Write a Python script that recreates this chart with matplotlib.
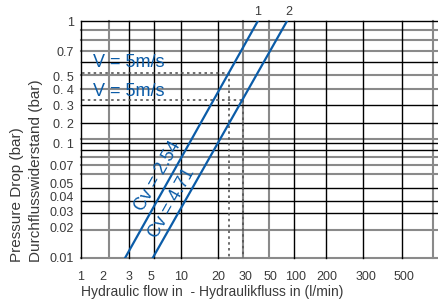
import numpy as np
import matplotlib
matplotlib.use("Agg")
import matplotlib.pyplot as plt

plt.rcParams['font.family'] = ['Liberation Sans', 'DejaVu Sans']

# Achsenbeschriftung (nicht logarithmisch gleichmaessig im Original)
x_ticks = [1, 2, 3, 5, 10, 20, 30, 50, 100, 200, 300, 500]
y_ticks = [1, 0.7, 0.5, 0.4, 0.3, 0.2, 0.1, 0.07, 0.05, 0.04, 0.03, 0.02, 0.01]
y_tick_labels = ['1', '0.7', '0. 5', '0. 4', '0. 3', '0. 2', '0. 1', '0.07', '0.05', '0.04', '0.03', '0.02', '0.01']

# Gitterlinien (Werte)
x_grid_dark = [1, 3, 5.3, 10, 20, 95, 195, 291, 487]
x_grid_grey = [2.2, 29, 49, 817]
y_grid_dark = [1, 0.6, 0.3, 0.2, 0.1, 0.089, 0.046, 0.0363, 0.0285]
y_grid_grey = [0.9, 0.8, 0.7, 0.51, 0.4, 0.115, 0.08, 0.07, 0.059, 0.0187, 0.01]

# Kennlinien (Durchfluss l/min bei 0.01 und 1 bar)
flow_1 = [2.82, 39]
flow_2 = [5.2, 78.7]
dp_lines = [0.01, 1]

# V = 5 m/s Markierungen
v5_flow = [23.6, 29.1]
v5_dp = [0.52, 0.328]

# Skalen-Kalibrierung des Originaldiagramms
x_cal_val = np.log10([1, 2, 3, 5, 10, 20, 30, 50, 100, 200, 300, 500, 1000])
x_cal_pos = np.array([81, 103, 129, 151, 181, 218, 245, 270, 296, 327, 366, 404, 445], float)
y_cal_val = np.log10([0.01, 0.02, 0.03, 0.04, 0.05, 0.07, 0.1, 0.2, 0.3, 0.4, 0.5, 0.7, 1])
y_cal_pos = -np.array([258, 227, 211, 196, 183, 165, 143, 123, 105, 89, 76, 51, 21], float)


def x_fwd(v):
    return np.interp(np.log10(np.clip(v, 1e-6, None)), x_cal_val, x_cal_pos)


def x_inv(p):
    return 10 ** np.interp(p, x_cal_pos, x_cal_val)


def y_fwd(v):
    return np.interp(np.log10(np.clip(v, 1e-6, None)), y_cal_val, y_cal_pos)


def y_inv(p):
    return 10 ** np.interp(p, y_cal_pos, y_cal_val)


blue = '#0b5ca8'
grey = '#8a8a8a'
txt = '#3a3a3a'

fig = plt.figure(figsize=(4.39, 3.0), dpi=100)
ax = fig.add_axes([81 / 439, 42 / 300, 358 / 439, 237 / 300])
ax.set_xscale('function', functions=(x_fwd, x_inv))
ax.set_yscale('function', functions=(y_fwd, y_inv))
ax.set_xlim(1, 903)
ax.set_ylim(0.01, 1)

for s in ax.spines.values():
    s.set_visible(False)

for v in y_grid_grey:
    ax.axhline(v, color=grey, lw=1.5, zorder=1, clip_on=False)
for v in y_grid_dark:
    ax.axhline(v, color='black', lw=1.0, zorder=1.5, clip_on=False)
for v in x_grid_grey:
    ax.axvline(v, color=grey, lw=1.5, zorder=1, clip_on=False)
for v in x_grid_dark:
    ax.axvline(v, color='black', lw=1.0, zorder=1.5, clip_on=False)

ax.set_xticks(x_ticks)
ax.set_xticklabels([str(t) for t in x_ticks])
ax.set_yticks(y_ticks)
ax.set_yticklabels(y_tick_labels)
ax.minorticks_off()
ax.tick_params(length=0, labelsize=9, labelcolor=txt)
ax.tick_params(axis='x', pad=9)
ax.tick_params(axis='y', pad=5)

# Kennlinien
ax.plot(flow_1, dp_lines, color=blue, lw=1.6, zorder=3)
ax.plot(flow_2, dp_lines, color=blue, lw=1.6, zorder=3)
ax.annotate('1', xy=(flow_1[1], dp_lines[1]), xytext=(0, 2), textcoords='offset points',
            ha='center', va='bottom', fontsize=9, color=txt, annotation_clip=False)
ax.annotate('2', xy=(flow_2[1], dp_lines[1]), xytext=(1, 2), textcoords='offset points',
            ha='center', va='bottom', fontsize=9, color=txt, annotation_clip=False)

# V = 5 m/s Hilfslinien
for f, p in zip(v5_flow, v5_dp):
    ax.plot([1.04, f], [p, p], color='#555555', lw=1.2, ls=(0, (1.5, 2)), zorder=2)
    ax.plot([f, f], [p, 0.01], color='#555555', lw=1.2, ls=(0, (1.5, 2)), zorder=2)

ax.text(1.46, 0.60, 'V = 5m/s', color=blue, fontsize=13, ha='left', va='center', zorder=4)
ax.text(1.46, 0.385, 'V = 5m/s', color=blue, fontsize=13, ha='left', va='center', zorder=4)

ax.text(5.88, 0.057, 'Cv = 2.54', color=blue, fontsize=13, rotation=60.7,
        rotation_mode='anchor', ha='center', va='center', zorder=4)
ax.text(8.1, 0.035, 'Cv = 4.71', color=blue, fontsize=13, rotation=60.7,
        rotation_mode='anchor', ha='center', va='center', zorder=4)

# Achsentitel
fig.text(81 / 439, 1 / 300, 'Hydraulic flow in  - Hydraulikfluss in (l/min)', fontsize=10,
         color=txt, ha='left', va='bottom')
fig.text(17 / 439, 38 / 300, 'Pressure Drop (bar)', fontsize=11, color=txt,
         rotation=90, ha='center', va='bottom')
fig.text(36 / 439, 38 / 300, 'Durchflusswiderstand (bar)', fontsize=11, color=txt,
         rotation=90, ha='center', va='bottom')

fig.savefig('out.png', dpi=100)
